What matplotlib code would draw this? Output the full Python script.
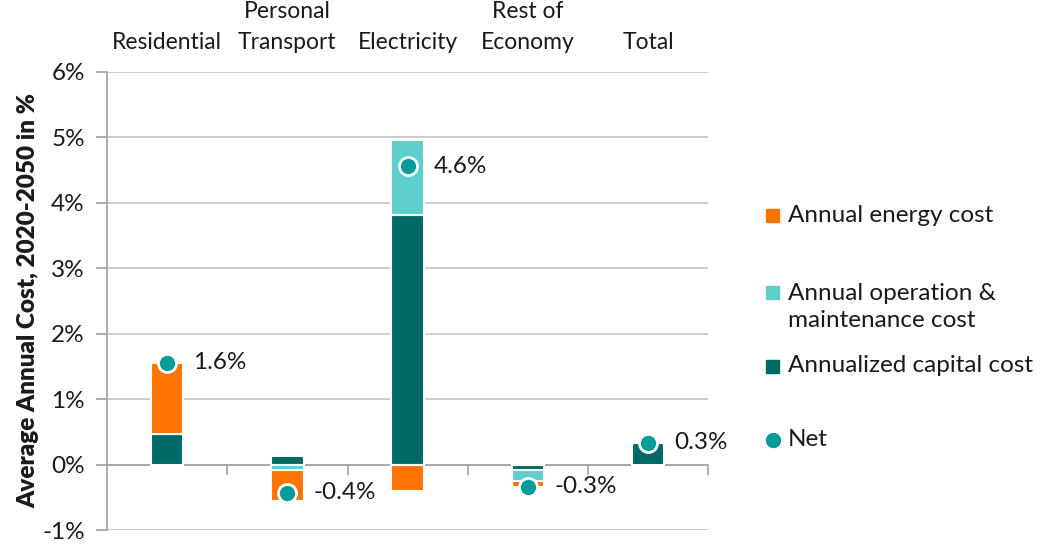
import numpy as np
import matplotlib.pyplot as plt
from matplotlib.patches import Rectangle
from matplotlib.lines import Line2D

plt.rcParams['font.family'] = ['Lato', 'DejaVu Sans']

# --- DATA (average annual cost change, 2020-2050, in %) ---
categories = ['Residential', 'Personal\nTransport', 'Electricity', 'Rest of\nEconomy', 'Total']
capital_cost = [0.46, 0.13, 3.81, -0.09, 0.33]
om_cost = [0.00, -0.08, 1.15, -0.16, 0.00]
energy_cost = [1.10, -0.48, -0.40, -0.09, 0.00]
net_cost = [1.56, -0.43, 4.56, -0.34, 0.33]

C_ENERGY = '#FF7300'
C_OM = '#5ECECD'
C_CAPITAL = '#006865'
C_NET = '#009C99'
C_GRID = '#C8C8C8'
C_AXIS = '#A6A6A6'
C_TEXT = '#1a1a1a'

fig = plt.figure(figsize=(10.42, 5.44), dpi=100)
ax = fig.add_axes([0.1027, 0.0257, 0.577, 0.842])

x = np.arange(len(categories))
width = 0.27

# stack positives upward and negatives downward from zero
pos_base = np.zeros(len(x))
neg_base = np.zeros(len(x))
for vals, col in [(capital_cost, C_CAPITAL), (om_cost, C_OM), (energy_cost, C_ENERGY)]:
    vals = np.array(vals)
    bottom = np.where(vals >= 0, pos_base, neg_base)
    ax.bar(x, vals, width, bottom=bottom, color=col, edgecolor='white',
           linewidth=1.5, zorder=3)
    pos_base += np.clip(vals, 0, None)
    neg_base += np.clip(vals, None, 0)

ax.plot(x, net_cost, 'o', color=C_NET, markersize=13, markeredgecolor='white',
        markeredgewidth=2, zorder=5)
for xi, v in zip(x, net_cost):
    ax.annotate(f'{v:.1f}%', (xi, v), xytext=(19, 0), textcoords='offset points',
                ha='left', va='center', fontsize=17.5, color=C_TEXT)

ax.set_xlim(-0.5, 4.5)
ax.set_ylim(-1, 6)
ax.set_yticks(range(-1, 7))
ax.set_yticklabels([f'{t}%' for t in range(-1, 7)], fontsize=17.5, color=C_TEXT)
ax.yaxis.grid(True, color=C_GRID, linewidth=1.3, zorder=0)
ax.set_axisbelow(True)

# category boundaries marked on the zero line
ax.spines['bottom'].set_position(('data', 0))
ax.spines['bottom'].set_color(C_AXIS)
ax.spines['bottom'].set_linewidth(1.3)
ax.set_xticks(np.arange(0.5, 5, 1))
ax.set_xticklabels([])
ax.tick_params(axis='x', direction='out', length=7, width=1.3, color=C_AXIS)
ax.tick_params(axis='y', direction='out', length=8, width=1.3, color=C_AXIS, pad=8)
ax.spines['left'].set_color(C_AXIS)
ax.spines['left'].set_linewidth(1.3)
for s in ['top', 'right']:
    ax.spines[s].set_visible(False)

top = ax.secondary_xaxis('top')
top.set_xticks(x)
top.set_xticklabels(categories, fontsize=16.5, linespacing=1.55, color=C_TEXT)
top.tick_params(length=0, pad=14)
top.spines['top'].set_visible(False)

ax.set_ylabel('Average Annual Cost, 2020-2050 in %', fontsize=17.5, fontweight='heavy',
              labelpad=2, color=C_TEXT)

# legend entries placed by hand (pixel rows of each entry, marker row)
legend_items = [
    ('Annual energy cost', C_ENERGY, 216, 216, 's'),
    ('Annual operation &\nmaintenance cost', C_OM, 307, 292, 's'),
    ('Annualized capital cost', C_CAPITAL, 366, 366, 's'),
    ('Net', C_NET, 440, 440, 'o'),
]
W, H = 1042, 544
for label, col, text_row, mark_row, kind in legend_items:
    ym = 1 - mark_row / H
    if kind == 's':
        fig.add_artist(Rectangle((766 / W, ym - 6.5 / H), 13 / W, 13 / H,
                                 transform=fig.transFigure, color=col))
    else:
        fig.add_artist(Line2D([773 / W], [ym], marker='o', markersize=10,
                              color=col, transform=fig.transFigure))
    fig.text(788 / W, 1 - text_row / H, label, fontsize=17.5, va='center', ha='left',
             linespacing=1.3, color=C_TEXT)

fig.savefig('out.png', dpi=100)
